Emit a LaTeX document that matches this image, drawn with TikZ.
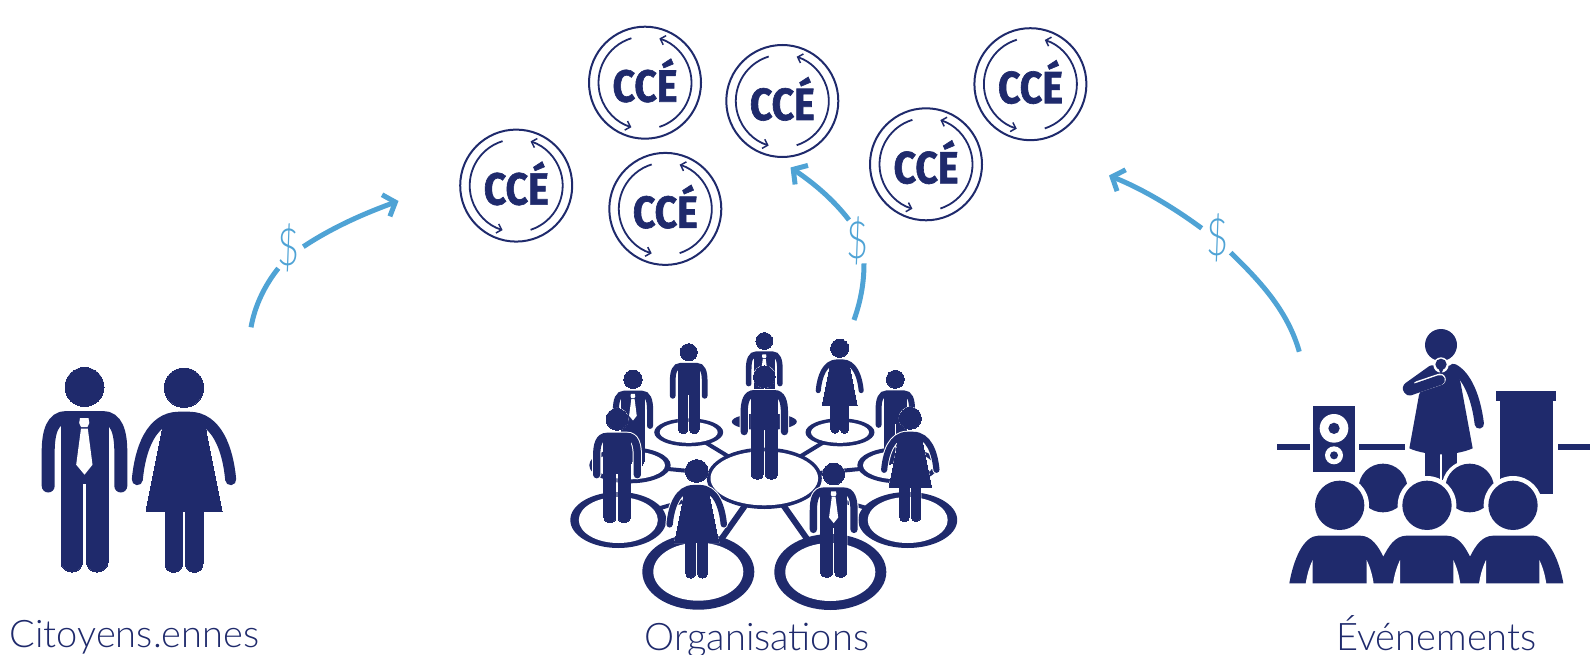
\documentclass[tikz,border=0pt]{standalone}
\usepackage{fontspec}
\usetikzlibrary{arrows.meta}
\setmainfont{Lato Light}
\newfontfamily\ccefont{Fira Sans}[FakeStretch=0.87,FakeBold=1.4]
\definecolor{navy}{HTML}{1F2A6C}
\definecolor{sky}{HTML}{4FA3D5}
\tikzset{
  flow/.style={sky,line width=5pt},
  flowtip/.style={flow,-{Straight Barb[length=10pt,width=23pt,line width=5pt]}},
  caption/.style={navy,font=\fontsize{38}{38}\selectfont,anchor=base,inner sep=0pt},
  dollar/.style={sky,font=\fontsize{38}{38}\selectfont,inner sep=0pt},
  ccetext/.style={navy,font=\ccefont\bfseries\fontsize{45}{45}\selectfont,anchor=base,inner sep=0pt},
  ring/.style={navy,line width=2pt},
  swirl/.style={navy,line width=1.8pt,-{Straight Barb[length=4.5pt,width=9.5pt,line width=1.5pt]}},
  link/.style={navy,line width=4pt},
  linkb/.style={navy,line width=6pt}
}
\newcommand\badge[3]{%
  \begin{scope}[shift={(#2,#3)}]
    \coordinate (#1c) at (0,0);
    \draw[ring] (0,0) circle[radius=56];
    \draw[swirl] (253:46.5) arc[start angle=253,end angle=107,radius=46.5];
    \draw[swirl] (72:46.5) arc[start angle=72,end angle=-72,radius=46.5];
    \node[ccetext] (#1t) at (0,19) {CCÉ};
  \end{scope}}
\newcommand\manparts[3]{% halo, colour, scale
  \path[fill=#2,draw=#2,line width=#1] (0,0) circle[radius=19.5];
  \path[fill=#2,draw=#2,line width=#1] (-23.5,28) -- (23.5,28) -- (23.5,175)
    .. controls (23.5,181) and (18,185) .. (12.5,185)
    .. controls (7,185) and (2,181) .. (2,175) -- (2,96) -- (-2,96) -- (-2,175)
    .. controls (-2,181) and (-7,185) .. (-12.5,185)
    .. controls (-18,185) and (-23.5,181) .. (-23.5,175) -- cycle;
  \draw[#2,line cap=round,line width={13*#3*1pt+2*#1}]
    (-36.3,99) -- (-36.3,65) .. controls (-36.3,45) and (-32,30.5) .. (-18,30.5)
    -- (18,30.5) .. controls (32,30.5) and (36.3,45) .. (36.3,65) -- (36.3,99);
}
\newcommand\figman[4]{%
  \begin{scope}[shift={(#1,#2)},scale=#3]
    \manparts{1pt}{white}{#3}
    \manparts{0pt}{navy}{#3}
    \ifnum#4=1
      \fill[white] (-4.5,31) -- (4,31) -- (4.8,36) -- (3,40) -- (-3.5,40) -- (-5.3,36) -- cycle;
      \fill[white] (-3.5,41.5) -- (3.3,41.5) -- (8,77.7) -- (0,87.7) -- (-8.3,77.7) -- cycle;
    \fi
  \end{scope}}
\newcommand\womanparts[3]{%
  \path[fill=#2,draw=#2,line width=#1] (0,0) circle[radius=19.7];
  \path[fill=#2,draw=#2,line width=#1] (-18,29.5) -- (18,29.5) -- (22,43) -- (38,123.3) -- (19,123.3)
    -- (19,176) .. controls (19,181) and (15,184.7) .. (10.2,184.7)
    .. controls (5.5,184.7) and (1.5,181) .. (1.5,176) -- (1.5,123.3) -- (-1.5,123.3) -- (-1.5,176)
    .. controls (-1.5,181) and (-5.5,184.7) .. (-10.2,184.7)
    .. controls (-15,184.7) and (-19,181) .. (-19,176) -- (-19,123.3) -- (-38,123.3) -- (-22,43) -- cycle;
  \draw[#2,line cap=round,line width={11*#3*1pt+2*#1}]
    (-46.7,92) .. controls (-44,62) and (-33,29.5) .. (-5,29.5)
    -- (5,29.5) .. controls (33,29.5) and (44,62) .. (46.7,92);
}
\newcommand\figwoman[3]{%
  \begin{scope}[shift={(#1,#2)},scale=#3]
    \womanparts{1pt}{white}{#3}
    \womanparts{0pt}{navy}{#3}
  \end{scope}}
\begin{document}
\begin{tikzpicture}[x=1pt,y=-1pt]
\useasboundingbox (0,0) rectangle (1590,655);
% ---- left couple
\figman{84.5}{387}{1}{1}
\figwoman{184}{387.7}{1}
\node[caption] (cit) at (134.5,647) {Citoyens.ennes};
% ---- badges
\badge{a}{645}{82.7}
\badge{b}{782.3}{101}
\badge{c}{1030.4}{84.2}
\badge{d}{926}{164.3}
\badge{e}{516.2}{185.6}
\badge{f}{665.3}{208.9}
% ---- flows
\coordinate (f1a) at (251,327.3); \coordinate (f1b) at (278.3,268.3);
\coordinate (f1c) at (303.3,246.7); \coordinate (f1d) at (398.5,201);
\draw[flow] (f1a) .. controls (255,305) and (265,285) .. (f1b);
\draw[flowtip] (f1c) .. controls (330,229) and (360,215) .. (f1d);
\node[dollar] (d1) at (289,247.7) {\scalebox{1}[1.35]{\$}};
\coordinate (f2a) at (854,320); \coordinate (f2b) at (864,263.3);
\coordinate (f2c) at (849,220); \coordinate (f2d) at (790.5,167.5);
\draw[flow] (f2a) .. controls (860,303) and (864,285) .. (f2b);
\draw[flowtip] (f2c) .. controls (832,198) and (812,182) .. (f2d);
\node[dollar] (d2) at (857.7,240.7) {\scalebox{1}[1.35]{\$}};
\coordinate (f3a) at (1299.3,351.7); \coordinate (f3b) at (1230.7,252.7);
\coordinate (f3c) at (1201.7,228.3); \coordinate (f3d) at (1109,175.5);
\draw[flow] (f3a) .. controls (1288,312) and (1262,283) .. (f3b);
\draw[flowtip] (f3c) .. controls (1170,205) and (1140,188) .. (f3d);
\node[dollar] (d3) at (1218,238.3) {\scalebox{1}[1.35]{\$}};
% ---- organisations
\coordinate (hub) at (764.3,478.3);
\coordinate (pa) at (630,465.3); \coordinate (pb) at (688.7,432.3);
\coordinate (pc) at (840,432.3); \coordinate (pd) at (898,465.3);
\coordinate (pe) at (618.3,520); \coordinate (pf) at (907.7,520);
\coordinate (pg) at (698.3,571.7); \coordinate (ph) at (830.3,572);
\fill[navy] (764.3,421.7) ellipse[x radius=32.5,y radius=8.5];
\figman{764.3}{341}{0.43}{1}
\foreach \p in {pa,pb,pc,pd,pe,pf} \draw[link] (hub) -- (\p);
\foreach \p in {pg,ph} \draw[linkb] (hub) -- (\p);
\fill[navy] (pa) ellipse[x radius=40.7,y radius=18];
\fill[white] (pa) ellipse[x radius=35,y radius=14];
\fill[navy] (pd) ellipse[x radius=40.7,y radius=18];
\fill[white] (pd) ellipse[x radius=35,y radius=14];
\fill[navy] (pb) ellipse[x radius=34.5,y radius=14];
\fill[white] (pb) ellipse[x radius=29,y radius=10.5];
\fill[navy] (pc) ellipse[x radius=34.5,y radius=14];
\fill[white] (pc) ellipse[x radius=29,y radius=10.5];
\fill[navy] (pe) ellipse[x radius=48,y radius=28];
\fill[white] (pe) ellipse[x radius=39.5,y radius=23];
\fill[navy] (pf) ellipse[x radius=49.5,y radius=28];
\fill[white] (pf) ellipse[x radius=40,y radius=23];
\fill[navy] (pg) ellipse[x radius=56,y radius=38];
\fill[white] (pg) ellipse[x radius=45,y radius=29];
\fill[navy] (ph) ellipse[x radius=56,y radius=38];
\fill[white] (ph) ellipse[x radius=45,y radius=29];
\fill[navy] (hub) ellipse[x radius=57.5,y radius=30.7];
\fill[white] (hub) ellipse[x radius=53.8,y radius=27];
\figman{633}{379.3}{0.47}{1}
\figman{688.7}{352.3}{0.44}{0}
\figwoman{839.7}{348.3}{0.46}
\figman{895.3}{379.3}{0.46}{0}
\figman{764.3}{376.7}{0.555}{0}
\figman{617}{419.3}{0.56}{0}
\figwoman{910.3}{418.3}{0.56}
\figwoman{696.7}{471}{0.58}
\figman{833.7}{474}{0.56}{1}
\node[caption] (org) at (757,650) {Organisations};
% ---- events (coordinates of a 3x crop)
\begin{scope}[shift={(1250,320)},x=0.33333pt,y=-0.33333pt]
  \fill[navy] (81,372) rectangle (180,390);
  \fill[navy] (327,372) rectangle (465,390);
  \fill[navy] (924,372) rectangle (1020,390);
  \fill[navy] (189,258) rectangle (315,456);
  \fill[white] (252,325) circle[radius=43];
  \fill[navy] (252,325) circle[radius=17];
  \fill[white] (252,406) circle[radius=27];
  \fill[navy] (252,406) circle[radius=12];
  \fill[navy] (738,212) rectangle (918,242);
  \fill[navy] (749,242) rectangle (908,523);
  % speaker
  \fill[navy] (573,75) circle[radius=48];
  \fill[navy] (525,395) rectangle (570,480);
  \fill[navy] (577,395) rectangle (622,480);
  \fill[navy] (540,150) -- (560,137) -- (610,137) .. controls (620,150) and (628,170) .. (632,190)
    -- (668,385) .. controls (640,398) and (600,403) .. (573,403)
    .. controls (540,403) and (505,397) .. (478,385) -- (507,225) -- cycle;
  \draw[navy,line width=9.3pt,line cap=round] (610,145) .. controls (650,165) and (678,230) .. (688,312);
  \draw[navy,line width=13pt,line cap=round] (478,205) -- (548,155);
  \draw[white,line width=11.5pt,line cap=round] (505,200) -- (570,178);
  \draw[navy,line width=10pt,line cap=round] (478,212) -- (570,180);
  \draw[navy,line width=11pt] (478,208) -- (497,202);
  \fill[white] (573,135) circle[radius=23];
  \fill[navy] (573,133) circle[radius=17];
  \fill[navy] (565,145) -- (581,145) -- (573,163) -- cycle;
  % audience
  \foreach \hx in {399,659}{
    \fill[white] (\hx,504) circle[radius=84];
    \fill[navy] (\hx,504) circle[radius=73];
  }
  \foreach \hx in {269,531,789}{
    \fill[white] (\hx,556) circle[radius=88];
    \fill[navy] (\hx,556) circle[radius=74];
  }
  \fill[navy] (118,790) .. controls (130,720) and (160,647) .. (205,647) -- (330,647)
    .. controls (365,647) and (385,680) .. (400,710)
    .. controls (415,680) and (435,647) .. (470,647) -- (590,647)
    .. controls (625,647) and (645,680) .. (660,710)
    .. controls (675,680) and (695,647) .. (730,647) -- (850,647)
    .. controls (895,647) and (928,720) .. (940,790) -- cycle;
  \foreach \wx/\wd in {188/-1,350/1,450/-1,610/1,708/-1,868/1}{
    \fill[white] (\wx,720) .. controls (\wx+\wd*12,745) and (\wx+\wd*18,770) .. (\wx+\wd*21,792) -- (\wx,792) -- cycle;
  }
\end{scope}
\node[caption] (evt) at (1436.5,650) {Événements};
\end{tikzpicture}
\end{document}
